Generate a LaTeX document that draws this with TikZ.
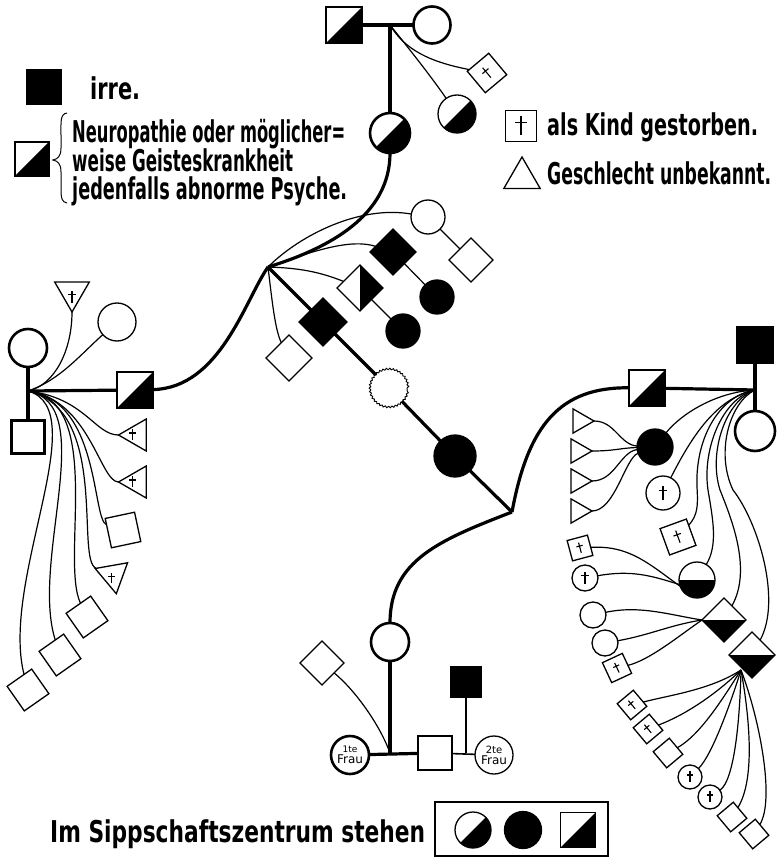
\documentclass[tikz,border=0pt]{standalone}
\usepackage{fontspec}
\setmainfont{DejaVu Sans}
\usepackage{graphicx}
\usetikzlibrary{shapes.geometric,decorations.pathmorphing}

% stretch a text to a given width, keeping its height
\newcommand\fitw[2]{\resizebox{#1pt}{\height}{#2}}

\tikzset{
  sym/.style={draw, line width=1.3pt, inner sep=0pt, outer sep=0pt, fill=white},
  bold/.style={line width=2.6pt},
  sq/.style={sym, rectangle, minimum size=#1},
  ci/.style={sym, circle, minimum size=#1},
  dm/.style={sym, diamond, aspect=1, minimum size=#1},
  tri/.style={sym, regular polygon, regular polygon sides=3, minimum size=#1},
  dark/.style={fill=black},
  diag/.style={path picture={\fill[black] (path picture bounding box.south west) -- (path picture bounding box.south east) -- (path picture bounding box.north east) -- cycle;}},
  low/.style={path picture={\fill[black] (path picture bounding box.west) rectangle (path picture bounding box.south east);}},
  rside/.style={path picture={\fill[black] (path picture bounding box.north) rectangle (path picture bounding box.south east);}},
  crs/.style={path picture={\draw[line width=1.1pt]
      ([yshift=-0.55*#1]path picture bounding box.center) -- ([yshift=0.62*#1]path picture bounding box.center)
      ([xshift=-0.36*#1,yshift=0.22*#1]path picture bounding box.center) -- ([xshift=0.36*#1,yshift=0.22*#1]path picture bounding box.center);}},
  wavy/.style={draw, circle, minimum size=#1, inner sep=0pt, line width=0.9pt, fill=white, decorate, decoration={bumps, mirror, segment length=6.5pt, amplitude=1.8pt}},
  link/.style={line width=1.2pt},
  stem/.style={line width=3.2pt},
  lbl/.style={inner sep=0pt, anchor=base west, font=\fontsize{30}{30}\selectfont\bfseries},
  frau/.style={align=center, font=\fontsize{12}{11}\selectfont},
}

\begin{document}
\begin{tikzpicture}[x=1pt,y=-1pt]
\useasboundingbox (0,0) rectangle (779,858);

% ---------- legend ----------
\node[sq=35, dark] (kA) at (44,87) {};
\node[lbl] (kAt) at (90,100) {\fitw{50}{irre.}};
\node[sq=34, diag] (kB) at (32,159) {};
\draw[line width=1pt] (67,113) .. controls (60,114) and (61,122) .. (61,135) -- (61,148)
  .. controls (61,156) and (58,159) .. (53,160) .. controls (58,161) and (61,164) .. (61,172)
  -- (61,188) .. controls (61,199) and (62,202) .. (67,203);
\node[lbl] (kB1) at (72,143) {\fitw{273}{Neuropathie oder möglicher=}};
\node[lbl] (kB2) at (72,172) {\fitw{221}{weise Geisteskrankheit}};
\node[lbl] (kB3) at (72,200) {\fitw{275}{jedenfalls abnorme Psyche.}};

\node[sq=31, crs=16pt] (kC) at (521,126) {};
\node[lbl] (kCt) at (547,136) {\fitw{211}{als Kind gestorben.}};
\node[tri=42, shape border rotate=0] (kD) at (522,178) {};
\node[lbl] (kDt) at (547,185) {\fitw{224}{Geschlecht unbekannt.}};

\node[lbl] (kE) at (50,842) {\fitw{375}{Im Sippschaftszentrum stehen}};
\draw[line width=1.3pt] (435,802) rectangle (608,856);
\node[ci=36, diag] (kE1) at (473,830) {};
\node[ci=37, dark] (kE2) at (523,830) {};
\node[sq=35, diag] (kE3) at (578,830) {};

% ---------- top family ----------
\node[sq=36, diag, bold] (tS) at (344,25) {};
\node[ci=37, bold] (tC) at (432,25) {};
\coordinate (tJ) at (390,25);
\node[ci=40, diag, bold] (tH) at (390,133) {};
\node[sq=28, rotate=40, crs=11pt] (tX) at (487,73) {};
\node[ci=38, diag] (tK) at (457,114) {};
\draw[stem] (tS) -- (tC);
\draw[stem] (tJ) -- (tH);
\draw[link] (tJ) .. controls (405,50) and (430,62) .. (tX);
\draw[link] (tJ) .. controls (410,50) and (430,75) .. (tK);

% ---------- centre ----------
\coordinate (cJ) at (268,267);
\coordinate (rJ) at (512,512);
\node[dm=48, dark] (cD) at (323,322) {};
\node[wavy=36] (cW) at (389,388) {};
\node[ci=42, dark] (cB) at (455,456) {};
\draw[stem] (tH) .. controls (390,215) and (330,248) .. (cJ);
\draw[stem] (cJ) -- (cD) -- (cW) -- (cB) -- (rJ);

\node[ci=34] (c1) at (428,217) {};
\node[dm=44] (c1a) at (471,260) {};
\node[dm=46, dark] (c2) at (393,252) {};
\node[ci=34, dark] (c2a) at (437,297) {};
\node[dm=46, rside] (c3) at (360,288) {};
\node[ci=34, dark] (c3a) at (403,331) {};
\node[dm=46] (c4) at (289,358) {};
\draw[link] (c1) -- (c1a);
\draw[link] (c2) -- (c2a);
\draw[link] (c3) -- (c3a);
\draw[link] (cJ) .. controls (300,235) and (360,205) .. (c1);
\draw[link] (cJ) .. controls (310,252) and (350,238) .. (c2);
\draw[link] (cJ) .. controls (300,268) and (320,272) .. (c3);
\draw[link] (cJ) .. controls (272,300) and (275,330) .. (c4);

% ---------- left family ----------
\node[ci=38, bold] (lC) at (28,348) {};
\coordinate (lJ) at (28,391);
\node[sq=33, bold] (lS) at (28,437) {};
\node[sq=36, diag, bold] (lH) at (135,390) {};
\draw[stem] (lC) -- (lJ) -- (lS);
\draw[stem] (lJ) -- (lH);
\draw[stem] (lH) .. controls (220,388) and (245,300) .. (cJ);

\node[tri=40, shape border rotate=180, crs=10pt] (l1) at (72,292) {};
\node[ci=38] (l2) at (117,322) {};
\node[tri=37, shape border rotate=90, crs=9pt] (l3) at (137,435) {};
\node[tri=37, shape border rotate=90, crs=9pt] (l4) at (137,482) {};
\node[sq=30, rotate=12] (l5) at (123,530) {};
\node[tri=38, shape border rotate=70, crs=9pt] (l6) at (113,575) {};
\node[sq=30, rotate=35] (l7) at (87,617) {};
\node[sq=30, rotate=35] (l8) at (60,655) {};
\node[sq=30, rotate=35] (l9) at (28,690) {};
\draw[link] (l1) .. controls (72,350) and (55,385) .. (lJ);
\draw[link] (l2) .. controls (80,355) and (60,380) .. (lJ);
\draw[link] (lJ) .. controls (85,398) and (95,435) .. (l3);
\draw[link] (lJ) .. controls (90,400) and (100,482) .. (l4);
\draw[link] (lJ) .. controls (100,400) and (92,520) .. (l5);
\draw[link] (lJ) .. controls (110,410) and (75,560) .. (l6);
\draw[link] (lJ) .. controls (105,400) and (60,560) .. (l7);
\draw[link] (lJ) .. controls (100,405) and (30,560) .. (l8);
\draw[link] (lJ) .. controls (95,410) and (0,580) .. (l9);

% ---------- right family ----------
\node[sq=36, dark] (rB) at (755,345) {};
\coordinate (rJ2) at (755,390);
\node[ci=40, bold] (rC) at (755,431) {};
\node[sq=36, diag, bold] (rH) at (647,388) {};
\draw[stem] (rB) -- (rJ2) -- (rC);
\draw[stem] (rH) -- (rJ2);
\draw[stem] (rH) .. controls (560,387) and (528,425) .. (rJ);

\node[ci=36, dark] (r1) at (655,447) {};
\node[ci=34, crs=12pt] (r2) at (663,493) {};
\node[sq=28, rotate=20, crs=11pt] (r3) at (678,537) {};
\node[ci=36, low] (r4) at (697,580) {};
\node[dm=44, low] (r5) at (724,620) {};
\node[dm=46, low] (r6) at (752,655) {};
\draw[link] (rJ2) .. controls (715,392) and (680,415) .. (r1);
\draw[link] (rJ2) .. controls (715,398) and (690,440) .. (r2);
\draw[link] (rJ2) .. controls (718,396) and (695,440) .. (697,487) .. controls (698,505) and (698,515) .. (r3);
\draw[link] (rJ2) .. controls (722,398) and (702,450) .. (708,490) .. controls (713,520) and (718,545) .. (r4);
\draw[link] (rJ2) .. controls (726,400) and (708,452) .. (720,490) .. controls (732,520) and (752,570) .. (r5);
\draw[link] (rJ2) .. controls (730,402) and (715,452) .. (733,490) .. controls (758,522) and (782,600) .. (r6);

\node[tri=28, shape border rotate=-90] (r1a) at (580,421) {};
\node[tri=28, shape border rotate=-90] (r1b) at (578,451) {};
\node[tri=28, shape border rotate=-90] (r1c) at (578,481) {};
\node[tri=28, shape border rotate=-90] (r1d) at (578,511) {};
\draw[link] (r1) .. controls (620,445) and (615,421) .. (r1a);
\draw[link] (r1) .. controls (620,448) and (615,451) .. (r1b);
\draw[link] (r1) .. controls (620,452) and (615,481) .. (r1c);
\draw[link] (r1) .. controls (625,458) and (615,511) .. (r1d);

\node[sq=21, rotate=15, crs=9pt] (r4a) at (580,548) {};
\node[ci=26, crs=10pt] (r4b) at (585,578) {};
\draw[link] (r4.200) .. controls (650,565) and (630,545) .. (r4a);
\draw[link] (r4.195) .. controls (650,575) and (630,570) .. (r4b);

\node[ci=26] (r5a) at (593,615) {};
\node[ci=26] (r5b) at (605,643) {};
\node[sq=22, rotate=25, crs=9pt] (r5c) at (617,668) {};
\draw[link] (r5.west) .. controls (670,615) and (640,605) .. (r5a);
\draw[link] (r5.west) .. controls (670,625) and (650,635) .. (r5b);
\draw[link] (r5.west) .. controls (680,635) and (650,660) .. (r5c);

\coordinate (rJ3) at (741,670);
\node[sq=21, rotate=40, crs=9pt] (r6a) at (632,705) {};
\node[sq=21, rotate=40, crs=9pt] (r6b) at (648,729) {};
\node[sq=21, rotate=40] (r6c) at (668,753) {};
\node[ci=24, crs=9pt] (r6d) at (690,777) {};
\node[ci=24, crs=9pt] (r6e) at (710,797) {};
\node[sq=21, rotate=40] (r6f) at (732,817) {};
\node[sq=21, rotate=40] (r6g) at (754,834) {};
\draw[link] (rJ3) .. controls (710,690) and (670,695) .. (r6a);
\draw[link] (rJ3) .. controls (715,695) and (685,715) .. (r6b);
\draw[link] (rJ3) .. controls (722,700) and (700,735) .. (r6c);
\draw[link] (rJ3) .. controls (730,705) and (712,755) .. (r6d);
\draw[link] (rJ3) .. controls (740,715) and (735,780) .. (r6e);
\draw[link] (rJ3) .. controls (750,720) and (755,780) .. (r6f);
\draw[link] (rJ3) .. controls (760,720) and (775,800) .. (r6g);

% ---------- bottom family ----------
\node[ci=38, bold] (bC) at (390,642) {};
\coordinate (bJ) at (390,753);
\node[ci=38, bold, frau] (f1) at (350,755) {{\fontsize{9}{9}\selectfont 1te}\\Frau};
\node[sq=34, bold] (bS) at (435,753) {};
\node[ci=38, frau] (f2) at (494,755) {{\fontsize{10}{10}\selectfont 2te}\\Frau};
\node[sq=30, dark] (bB) at (466,682) {};
\coordinate (bJ2) at (466,753);
\node[dm=44] (bD) at (322,663) {};
\draw[stem] (rJ) .. controls (440,540) and (390,560) .. (bC);
\draw[stem] (bC) -- (bJ);
\draw[stem] (f1) -- (bS);
\draw[line width=1.6pt] (bS) -- (f2);
\draw[link] (bB) -- (bJ2);
\draw[link] (bD) .. controls (355,690) and (380,725) .. (bJ);
\end{tikzpicture}
\end{document}
